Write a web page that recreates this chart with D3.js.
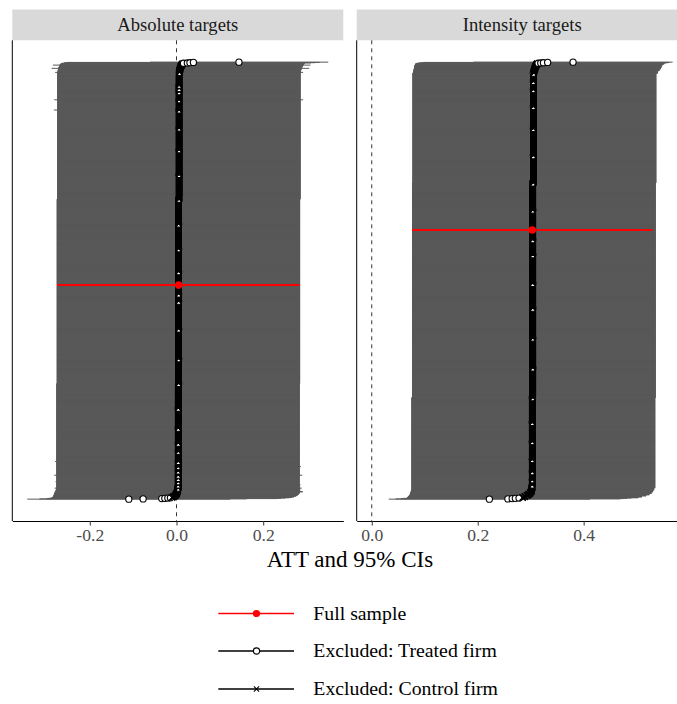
<!DOCTYPE html>
<html>
<head>
<meta charset="utf-8">
<script src="https://cdn.jsdelivr.net/npm/d3@7"></script>
<style>
  html, body { margin: 0; padding: 0; background: #fff; }
  svg { display: block; }
  svg text { font-family: "Liberation Serif", "Times New Roman", serif; }
</style>
</head>
<body>
<svg id="chart" width="677" height="704"></svg>
<script>
// ---------------------------------------------------------------------------
// Leave-one-out estimates, listed from the lowest ATT upward.
// Each run: [ATT, CI lower, CI upper, type, number of consecutive estimates]
// type: "T" = treated firm excluded, "C" = control firm excluded, "F" = full sample
// ---------------------------------------------------------------------------
const facetTitles = ["Absolute targets", "Intensity targets"];
const absTicks = [-0.2, 0.0, 0.2];
const intTicks = [0.0, 0.2, 0.4];
const xTitle = "ATT and 95% CIs";
const legendLabels = ["Full sample", "Excluded: Treated firm", "Excluded: Control firm"];

const absEstimates = [
  [-0.110, -0.344, 0.124, "T", 1],
  [-0.077, -0.316, 0.162, "T", 1],
  [-0.034, -0.300, 0.232, "T", 1],
  [-0.027, -0.295, 0.241, "T", 1],
  [-0.020, -0.291, 0.251, "T", 1],
  [-0.014, -0.288, 0.260, "T", 1],
  [-0.010, -0.286, 0.266, "C", 2],
  [-0.007, -0.285, 0.271, "C", 3],
  [-0.004, -0.284, 0.276, "C", 3],
  [-0.002, -0.283, 0.279, "C", 4],
  [ 0.000, -0.282, 0.282, "C", 4],
  [ 0.001, -0.281, 0.284, "C", 5],
  [ 0.002, -0.280, 0.291, "C", 2],
  [ 0.002, -0.279, 0.285, "C", 4],
  [ 0.003, -0.278, 0.285, "C", 8],
  [ 0.004, -0.281, 0.289, "T", 1],
  [ 0.004, -0.277, 0.284, "C", 11],
  [ 0.004, -0.277, 0.286, "T", 1],
  [ 0.004, -0.277, 0.284, "C", 11],
  [ 0.004, -0.279, 0.284, "T", 1],
  [ 0.004, -0.277, 0.284, "C", 11],
  [ 0.004, -0.277, 0.284, "T", 1],
  [ 0.004, -0.277, 0.284, "C", 11],
  [ 0.004, -0.282, 0.290, "T", 1],
  [ 0.004, -0.277, 0.284, "C", 15],
  [ 0.004, -0.277, 0.284, "T", 1],
  [ 0.004, -0.277, 0.284, "C", 15],
  [ 0.004, -0.277, 0.287, "T", 1],
  [ 0.004, -0.277, 0.284, "C", 18],
  [ 0.004, -0.280, 0.284, "T", 1],
  [ 0.004, -0.277, 0.284, "C", 37],
  [ 0.004, -0.277, 0.284, "T", 1],
  [ 0.004, -0.277, 0.284, "C", 29],
  [ 0.004, -0.277, 0.284, "T", 1],
  [ 0.004, -0.277, 0.284, "C", 55],
  [ 0.004, -0.277, 0.284, "T", 1],
  [ 0.004, -0.277, 0.284, "C", 73],
  [ 0.004, -0.277, 0.284, "T", 1],
  [ 0.004, -0.277, 0.284, "C", 91],
  [ 0.005, -0.276, 0.285, "T", 1],
  [ 0.005, -0.276, 0.285, "C", 91],
  [ 0.005, -0.276, 0.285, "T", 1],
  [ 0.005, -0.276, 0.285, "C", 110],
  [ 0.005, -0.276, 0.285, "T", 1],
  [ 0.005, -0.276, 0.285, "C", 102],
  [ 0.005, -0.276, 0.285, "T", 1],
  [ 0.005, -0.276, 0.285, "C", 26],
  [ 0.005, -0.276, 0.285, "T", 1],
  [ 0.005, -0.276, 0.285, "C", 32],
  [ 0.005, -0.275, 0.284, "F", 1],
  [ 0.005, -0.276, 0.285, "C", 49],
  [ 0.005, -0.276, 0.285, "T", 1],
  [ 0.005, -0.276, 0.285, "C", 84],
  [ 0.005, -0.276, 0.285, "T", 1],
  [ 0.005, -0.276, 0.285, "C", 91],
  [ 0.005, -0.276, 0.285, "T", 1],
  [ 0.005, -0.276, 0.285, "C", 91],
  [ 0.005, -0.276, 0.285, "T", 1],
  [ 0.006, -0.275, 0.286, "C", 91],
  [ 0.006, -0.275, 0.286, "T", 1],
  [ 0.006, -0.275, 0.286, "C", 91],
  [ 0.006, -0.275, 0.286, "T", 1],
  [ 0.006, -0.275, 0.286, "C", 80],
  [ 0.006, -0.275, 0.286, "T", 1],
  [ 0.006, -0.275, 0.286, "C", 66],
  [ 0.006, -0.283, 0.286, "T", 1],
  [ 0.006, -0.275, 0.286, "C", 37],
  [ 0.006, -0.282, 0.292, "T", 1],
  [ 0.006, -0.275, 0.286, "C", 29],
  [ 0.006, -0.275, 0.286, "T", 1],
  [ 0.006, -0.275, 0.286, "C", 11],
  [ 0.006, -0.275, 0.286, "T", 1],
  [ 0.006, -0.275, 0.286, "C", 11],
  [ 0.006, -0.275, 0.286, "T", 1],
  [ 0.006, -0.275, 0.286, "C", 37],
  [ 0.006, -0.275, 0.286, "C", 10],
  [ 0.007, -0.280, 0.292, "T", 1],
  [ 0.007, -0.274, 0.287, "C", 8],
  [ 0.008, -0.273, 0.288, "C", 6],
  [ 0.009, -0.288, 0.306, "C", 1],
  [ 0.009, -0.272, 0.289, "C", 4],
  [ 0.010, -0.271, 0.291, "C", 4],
  [ 0.011, -0.270, 0.292, "C", 3],
  [ 0.012, -0.285, 0.309, "C", 1],
  [ 0.012, -0.269, 0.293, "C", 2],
  [ 0.013, -0.268, 0.294, "C", 2],
  [ 0.014, -0.266, 0.295, "C", 2],
  [ 0.016, -0.264, 0.296, "T", 1],
  [ 0.025, -0.260, 0.310, "T", 1],
  [ 0.031, -0.258, 0.320, "T", 1],
  [ 0.039, -0.252, 0.330, "T", 1],
  [ 0.144, -0.061, 0.350, "T", 1]
];

const intEstimates = [
  [0.222, 0.032, 0.412, "T", 1],
  [0.257, 0.045, 0.469, "T", 1],
  [0.265, 0.055, 0.475, "T", 1],
  [0.271, 0.060, 0.482, "T", 1],
  [0.278, 0.066, 0.490, "T", 1],
  [0.285, 0.067, 0.503, "C", 3],
  [0.289, 0.069, 0.510, "C", 4],
  [0.293, 0.071, 0.518, "C", 4],
  [0.296, 0.072, 0.524, "C", 5],
  [0.299, 0.073, 0.528, "C", 6],
  [0.301, 0.074, 0.531, "C", 7],
  [0.302, 0.075, 0.533, "C", 8],
  [0.303, 0.075, 0.535, "C", 11],
  [0.303, 0.075, 0.535, "T", 1],
  [0.303, 0.075, 0.535, "C", 18],
  [0.303, 0.075, 0.535, "T", 1],
  [0.303, 0.075, 0.535, "C", 29],
  [0.303, 0.075, 0.535, "T", 1],
  [0.303, 0.075, 0.535, "C", 44],
  [0.303, 0.075, 0.535, "T", 1],
  [0.303, 0.075, 0.535, "C", 66],
  [0.303, 0.075, 0.535, "T", 1],
  [0.303, 0.075, 0.535, "C", 70],
  [0.303, 0.075, 0.535, "T", 1],
  [0.303, 0.075, 0.535, "C", 91],
  [0.303, 0.075, 0.535, "T", 1],
  [0.304, 0.076, 0.536, "C", 110],
  [0.304, 0.076, 0.536, "T", 1],
  [0.304, 0.076, 0.536, "C", 110],
  [0.304, 0.076, 0.536, "T", 1],
  [0.304, 0.076, 0.536, "C", 110],
  [0.304, 0.076, 0.536, "T", 1],
  [0.304, 0.076, 0.536, "C", 91],
  [0.304, 0.076, 0.536, "T", 1],
  [0.304, 0.076, 0.536, "C", 106],
  [0.304, 0.076, 0.536, "T", 1],
  [0.304, 0.076, 0.536, "C", 55],
  [0.304, 0.076, 0.536, "T", 1],
  [0.304, 0.076, 0.536, "C", 35],
  [0.303, 0.076, 0.530, "F", 1],
  [0.304, 0.076, 0.536, "C", 73],
  [0.304, 0.076, 0.536, "T", 1],
  [0.304, 0.076, 0.536, "C", 100],
  [0.304, 0.076, 0.536, "T", 1],
  [0.305, 0.077, 0.537, "C", 100],
  [0.305, 0.077, 0.537, "T", 1],
  [0.305, 0.077, 0.537, "C", 100],
  [0.305, 0.077, 0.537, "T", 1],
  [0.305, 0.077, 0.537, "C", 81],
  [0.305, 0.077, 0.537, "T", 1],
  [0.305, 0.077, 0.537, "C", 62],
  [0.305, 0.077, 0.537, "T", 1],
  [0.305, 0.077, 0.537, "C", 29],
  [0.305, 0.077, 0.537, "T", 1],
  [0.305, 0.077, 0.537, "C", 22],
  [0.305, 0.077, 0.537, "C", 8],
  [0.305, 0.077, 0.540, "T", 1],
  [0.306, 0.078, 0.540, "C", 8],
  [0.307, 0.079, 0.543, "C", 7],
  [0.308, 0.080, 0.546, "C", 6],
  [0.309, 0.080, 0.547, "C", 5],
  [0.310, 0.081, 0.548, "C", 4],
  [0.311, 0.082, 0.550, "C", 3],
  [0.312, 0.083, 0.552, "C", 3],
  [0.314, 0.085, 0.553, "T", 1],
  [0.319, 0.088, 0.556, "T", 1],
  [0.324, 0.092, 0.560, "T", 1],
  [0.332, 0.098, 0.562, "T", 1],
  [0.380, 0.192, 0.568, "T", 1]
];

// ---------------------------------------------------------------------------
// Layout
// ---------------------------------------------------------------------------
const svg = d3.select("#chart");
const serif = '"Liberation Serif", "Times New Roman", serif';
const panelW = 331;
const panelLefts = [12.3, 356.7];
const stripTop = 9.5, panelTop = 40.3, panelBottom = 521;
const grayCI = "#595959";

function expandRuns(runs) {
  const rows = [];
  runs.forEach(([att, lo, hi, type, n]) => {
    for (let i = 0; i < n; i++) rows.push({ att, lo, hi, type });
  });
  rows.forEach((d, i) => (d.rank = i + 1));
  return rows;
}

const panels = [
  { title: facetTitles[0], rows: expandRuns(absEstimates), ticks: absTicks },
  { title: facetTitles[1], rows: expandRuns(intEstimates), ticks: intTicks }
];

// shared vertical scale (rank of each estimate), 5% padding on both ends
const nMax = d3.max(panels, p => p.rows.length);
const padY = 0.05 * (nMax - 1);
const y = d3.scaleLinear().domain([1 - padY, nMax + padY]).range([panelBottom, panelTop]);

function xMark(sel, a) {
  return sel.attr("d", `M${-a},${-a}L${a},${a}M${-a},${a}L${a},${-a}`);
}

panels.forEach((p, i) => {
  const left = panelLefts[i];
  const vals = [0];
  p.rows.forEach(d => { vals.push(d.lo, d.hi); });
  const [mn, mx] = d3.extent(vals);
  const pad = 0.05 * (mx - mn);
  const x = d3.scaleLinear().domain([mn - pad, mx + pad]).range([left, left + panelW]);

  const g = svg.append("g");

  // facet strip
  g.append("rect")
    .attr("x", left).attr("y", stripTop)
    .attr("width", panelW).attr("height", panelTop - stripTop)
    .attr("fill", "#D9D9D9");
  g.append("text")
    .attr("x", left + panelW / 2).attr("y", 31.3)
    .attr("text-anchor", "middle")
    .style("font-family", serif)
    .style("font-size", "18.6px")
    .attr("fill", "#1A1A1A")
    .text(p.title);

  // reference line at zero
  g.append("line")
    .attr("x1", x(0)).attr("x2", x(0))
    .attr("y1", panelTop).attr("y2", panelBottom)
    .attr("stroke", "#000").attr("stroke-width", 0.8)
    .attr("stroke-dasharray", "4,4");

  // confidence intervals
  const others = p.rows.filter(d => d.type !== "F");
  const full = p.rows.filter(d => d.type === "F");
  g.append("g").selectAll("line").data(others).join("line")
    .attr("x1", d => x(d.lo)).attr("x2", d => x(d.hi))
    .attr("y1", d => y(d.rank)).attr("y2", d => y(d.rank))
    .attr("stroke", grayCI).attr("stroke-width", 1);

  g.append("g").selectAll("line").data(full).join("line")
    .attr("x1", d => x(d.lo)).attr("x2", d => x(d.hi))
    .attr("y1", d => y(d.rank)).attr("y2", d => y(d.rank))
    .attr("stroke", "#FF0000").attr("stroke-width", 2);

  // point estimates, drawn in rank order
  const pts = g.append("g");
  others.forEach(d => {
    if (d.type === "T") {
      pts.append("circle")
        .attr("cx", x(d.att)).attr("cy", y(d.rank)).attr("r", 3.1)
        .attr("fill", "#fff").attr("stroke", "#000").attr("stroke-width", 1.1);
    } else {
      pts.append("path")
        .call(xMark, 3)
        .attr("transform", `translate(${x(d.att)},${y(d.rank)})`)
        .attr("fill", "none").attr("stroke", "#000").attr("stroke-width", 1.1);
    }
  });
  g.append("g").selectAll("circle").data(full).join("circle")
    .attr("cx", d => x(d.att)).attr("cy", d => y(d.rank)).attr("r", 3.8)
    .attr("fill", "#FF0000");

  // axes
  g.append("line")
    .attr("x1", left).attr("x2", left)
    .attr("y1", panelTop).attr("y2", panelBottom)
    .attr("stroke", "#000").attr("stroke-width", 1);

  const axis = d3.axisBottom(x)
    .tickValues(p.ticks)
    .tickFormat(d => d.toFixed(1))
    .tickSize(4.5).tickSizeOuter(0).tickPadding(3.5);
  const ax = g.append("g").attr("transform", `translate(0,${panelBottom})`).call(axis);
  ax.attr("font-family", null).attr("font-size", null);
  ax.select(".domain").attr("stroke", "#000").attr("stroke-width", 1);
  ax.selectAll(".tick line").attr("stroke", "#333").attr("stroke-width", 1);
  ax.selectAll(".tick text")
    .attr("fill", "#4D4D4D")
    .style("font-family", serif)
    .style("font-size", "17.6px");
});

// axis title
svg.append("text")
  .attr("x", 350).attr("y", 567)
  .attr("text-anchor", "middle")
  .style("font-family", serif)
  .style("font-size", "23px")
  .attr("fill", "#000")
  .text(xTitle);

// legend
const legendY = [613.5, 651, 689];
const legend = svg.append("g");
legendLabels.forEach((label, i) => {
  const ly = legendY[i];
  const col = i === 0 ? "#FF0000" : "#000";
  legend.append("line")
    .attr("x1", 218.3).attr("x2", 294)
    .attr("y1", ly).attr("y2", ly)
    .attr("stroke", col).attr("stroke-width", i === 0 ? 1.6 : 1.3);
  if (i === 0) {
    legend.append("circle").attr("cx", 256.5).attr("cy", ly).attr("r", 3.6).attr("fill", "#FF0000");
  } else if (i === 1) {
    legend.append("circle").attr("cx", 256.5).attr("cy", ly).attr("r", 3.1)
      .attr("fill", "#fff").attr("stroke", "#000").attr("stroke-width", 1.1);
  } else {
    legend.append("path").call(xMark, 2.6)
      .attr("transform", `translate(256.5,${ly})`)
      .attr("fill", "none").attr("stroke", "#000").attr("stroke-width", 1.1);
  }
  legend.append("text")
    .attr("x", 313.3).attr("y", ly + 6)
    .style("font-family", serif)
    .style("font-size", "19.8px")
    .attr("fill", "#000")
    .text(label);
});
</script>
</body>
</html>
